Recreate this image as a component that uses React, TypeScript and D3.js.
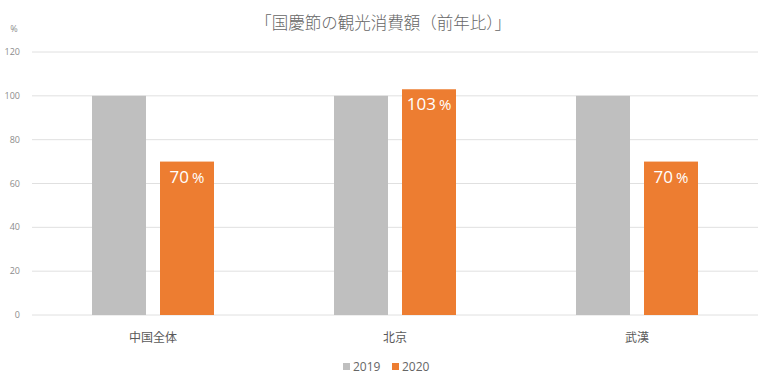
import React from "react";
import * as d3 from "d3";

const categories = ["中国全体", "北京", "武漢"];
const series = ["2019", "2020"];
const values2019 = [100, 100, 100];
const values2020 = [70, 103, 70];
const yTicks = [0, 20, 40, 60, 80, 100, 120];
const colors = ["#bfbfbf", "#ed7d31"];
const title = "「国慶節の観光消費額（前年比）」";

export default function App() {
  const W = 768, H = 384;
  const left = 32, right = 758, top = 52, bottom = 315;
  const x = d3.scaleBand<string>().domain(categories).range([left, right]).paddingInner(0).paddingOuter(0);
  const y = d3.scaleLinear().domain([0, 120]).range([bottom, top]);
  const bw = 54;
  const font = "'Open Sans', 'Noto Sans CJK JP', sans-serif";
  const data = [values2019, values2020];
  return (
    <svg width={W} height={H} style={{ position: "absolute", left: 0, top: 0 }} fontFamily={font}>
      <rect width={W} height={H} fill="#fff" />
      <text x={383} y={29} textAnchor="middle" fontSize={16.5} fill="#666" fontWeight={300}>{title}</text>
      <text x={14} y={32} textAnchor="middle" fontSize={9} fill="#8c8c8c">%</text>
      {yTicks.map((t) => (
        <g key={t}>
          <line x1={left} x2={right} y1={y(t)} y2={y(t)} stroke="#e0e0e0" strokeWidth={1} />
          <text x={20} y={y(t) + 3} textAnchor="end" fontSize={9} fill="#8c8c8c">{t}</text>
        </g>
      ))}
      {categories.map((c, i) => (
        <g key={c}>
          {series.map((s, j) => {
            const bx = (x(c) as number) + 60 + j * (bw + 14);
            const v = data[j][i];
            return (
              <rect key={s} x={bx} y={y(v)} width={bw} height={bottom - y(v)} fill={colors[j]} />
            );
          })}
          <text
            x={(x(c) as number) + 60 + bw + 14 + bw / 2}
            y={y(values2020[i]) + 21}
            textAnchor="middle"
            fontSize={17}
            fill="#fff"
          >
            {values2020[i]}<tspan fontSize={15} dx={3}>%</tspan>
          </text>
          <text x={(x(c) as number) + x.bandwidth() / 2} y={342} textAnchor="middle" fontSize={12} fill="#595959">{c}</text>
        </g>
      ))}
      {series.map((s, j) => {
        const lx = 343 + j * 49;
        return (
          <g key={s}>
            <rect x={lx} y={363} width={7} height={7} fill={colors[j]} />
            <text x={lx + 10} y={371} fontSize={12} fill="#666">{s}</text>
          </g>
        );
      })}
    </svg>
  );
}
